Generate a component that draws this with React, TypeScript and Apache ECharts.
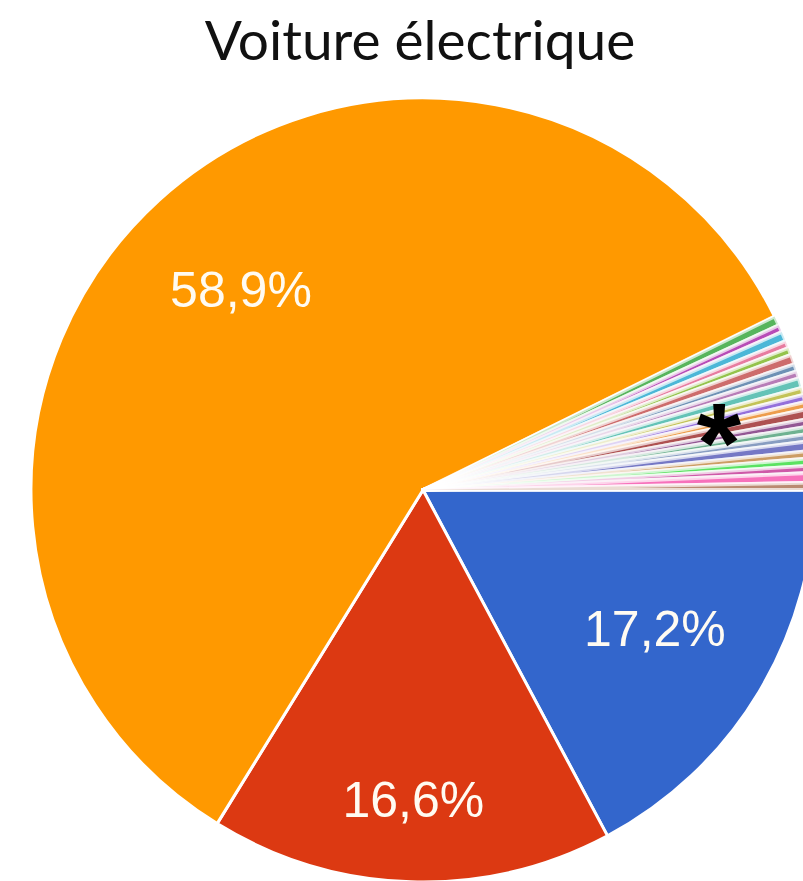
import React, { useEffect, useRef } from "react";
import * as echarts from "echarts";

const titleText = "Voiture électrique";
const mainNames = ["Bleu", "Rouge", "Orange"];
const mainValues = [17.2, 16.6, 58.9];
const mainColors = ["#3366cc", "#dc3912", "#ff9900"];
const smallValues = [0.4, 0.3, 0.4, 0.3, 0.3, 0.4, 0.3, 0.3, 0.4, 0.3, 0.3, 0.3, 0.4, 0.3, 0.3, 0.3, 0.4, 0.3, 0.3, 0.3, 0.4, 0.3];
const smallColors = ["#109618", "#990099", "#0099c6", "#dd4477", "#66aa00", "#b82e2e", "#316395", "#994499", "#22aa99", "#aaaa11", "#6633cc", "#e67300", "#8b0707", "#651067", "#329262", "#5574a6", "#3b3eac", "#b77322", "#16d620", "#b91383", "#f4359e", "#9c5935"];
const labelRadiusFactor = [0.69, 0.79, 0.69];
const markText = "*";

export default function App() {
  const ref = useRef<HTMLDivElement>(null);
  useEffect(() => {
    if (!ref.current) return;
    const chart = echarts.init(ref.current, null, { renderer: "svg" });
    const cx = 423, cy = 490, R = 392;
    const all = [...mainValues, ...smallValues];
    const total = all.reduce((a, b) => a + b, 0);
    const mids: number[] = [];
    let acc = 0;
    all.forEach((v) => {
      mids.push(((acc + v / 2) / total) * 2 * Math.PI);
      acc += v;
    });
    const data = [
      ...mainValues.map((v, i) => ({
        name: mainNames[i],
        value: v,
        itemStyle: { color: mainColors[i] },
        label: { show: true },
      })),
      ...smallValues.map((v, i) => ({
        name: "Autre " + (i + 1),
        value: v,
        itemStyle: { color: smallColors[i % smallColors.length], opacity: 0.7, borderWidth: 3.8 },
        label: { show: false },
      })),
    ];
    chart.setOption({
      animation: false,
      backgroundColor: "#ffffff",
      graphic: [
        {
          type: "text",
          x: 420,
          y: 39,
          style: {
            text: titleText,
            fill: "#111",
            font: "55px Lato, 'Noto Sans', sans-serif",
            textAlign: "center",
            textVerticalAlign: "middle",
          },
        },
        {
          type: "text",
          x: 719,
          y: 442,
          z: 100,
          style: {
            text: markText,
            fill: "#000",
            font: "bold 114px 'Liberation Sans', Arial, sans-serif",
            textAlign: "center",
            textVerticalAlign: "middle",
          },
        },
      ],
      series: [
        {
          type: "pie",
          center: [cx, cy],
          radius: [0, R],
          startAngle: 0,
          clockwise: true,
          avoidLabelOverlap: false,
          itemStyle: { borderColor: "#ffffff", borderWidth: 3 },
          emphasis: { disabled: true },
          labelLine: { show: false },
          label: {
            position: "inside",
            color: "#fffbf2",
            fontSize: 50,
            fontFamily: "'Liberation Sans', Arial, sans-serif",
            formatter: (p: any) => p.value.toFixed(1).replace(".", ",") + "%",
          },
          labelLayout: (p: any) => {
            const i = p.dataIndex;
            if (i >= mainValues.length) return {};
            const a = mids[i];
            const r = R * labelRadiusFactor[i];
            return {
              x: cx + r * Math.cos(a),
              y: cy + r * Math.sin(a),
              align: "center",
              verticalAlign: "middle",
            };
          },
          data,
        },
      ],
    });
    return () => chart.dispose();
  }, []);
  return (
    <div
      ref={ref}
      style={{ position: "fixed", left: 0, top: 0, width: 803, height: 881 }}
    />
  );
}
